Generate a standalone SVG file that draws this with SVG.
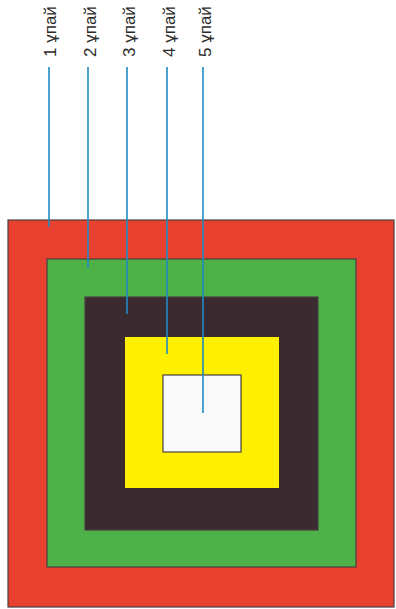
<svg xmlns="http://www.w3.org/2000/svg" width="396" height="609" viewBox="0 0 396 609">
<style>
.sq{stroke:#4a3f42;stroke-width:1.2}
.ln{stroke:#1f8cc4;stroke-width:1.6;fill:none}
.lb{font-family:"Liberation Sans",Arial,sans-serif;font-size:17px;fill:#2a2a2a}
</style>
<rect width="396" height="609" fill="#ffffff"/>
<g id="ring1"><rect class="sq" x="8" y="220" width="386" height="387" fill="#e8412f"/></g>
<g id="ring2"><rect class="sq" x="47" y="259" width="309" height="308" fill="#4db148"/></g>
<g id="ring3"><rect class="sq" x="85" y="297" width="233" height="233" fill="#3b2b30"/></g>
<g id="ring4"><rect x="125" y="337" width="154" height="151" fill="#fff000"/></g>
<g id="ring5"><rect class="sq" x="163" y="375" width="78" height="77" fill="#f9f9f9"/></g>
<g id="connectors">
<line class="ln" x1="49" y1="67" x2="49" y2="227"/>
<line class="ln" x1="88" y1="67" x2="88" y2="268"/>
<line class="ln" x1="127" y1="67" x2="127" y2="314"/>
<line class="ln" x1="167" y1="67" x2="167" y2="354"/>
<line class="ln" x1="203" y1="67" x2="203" y2="413"/>
</g>
<g id="labels">
<text class="lb" transform="translate(56,57) rotate(-90)">1 ұпай</text>
<text class="lb" transform="translate(96,57) rotate(-90)">2 ұпай</text>
<text class="lb" transform="translate(135,57) rotate(-90)">3 ұпай</text>
<text class="lb" transform="translate(175,57) rotate(-90)">4 ұпай</text>
<text class="lb" transform="translate(211,57) rotate(-90)">5 ұпай</text>
</g>
</svg>
